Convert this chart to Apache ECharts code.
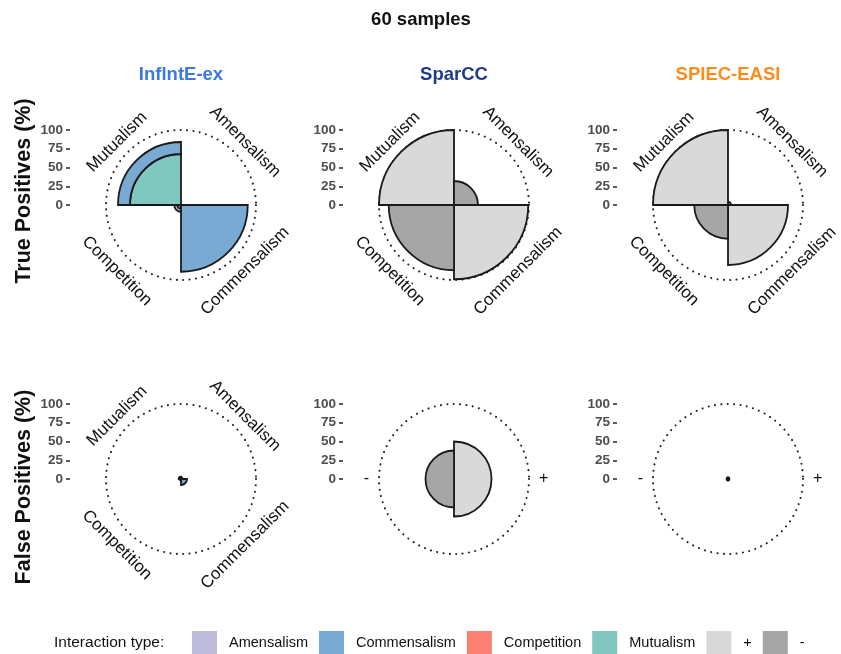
<!DOCTYPE html>
<html><head><meta charset="utf-8">
<script src="https://cdn.jsdelivr.net/npm/echarts@6/dist/echarts.min.js"></script>
<style>html,body{margin:0;padding:0;background:#fff}#c{width:841px;height:654px}</style>
</head><body><div id="c"></div>
<script>
// ---------- data ----------
const interactionTypes = ['Amensalism', 'Commensalism', 'Competition', 'Mutualism'];
const signs = ['+', '-'];
const methods = ['InflntE-ex', 'SparCC', 'SPIEC-EASI'];
const rowTitles = ['True Positives (%)', 'False Positives (%)'];
const radiusTicks = [0, 25, 50, 75, 100];
const legendItems = ['Amensalism', 'Commensalism', 'Competition', 'Mutualism', '+', '-'];

// True positives, InflntE-ex (values per interaction-type quadrant)
const tpInflAmensalism   = [0, 0, 4, 0];
const tpInflCommensalism = [0, 89, 0, 16];
const tpInflCompetition  = [0, 0, 5, 0];
const tpInflMutualism    = [0, 0, 0, 68];
// True positives, SparCC / SPIEC-EASI (sign predicted per quadrant)
const tpSparccPlus  = [0, 99, 0, 100];
const tpSparccMinus = [32, 0, 87, 0];
const tpSpiecPlus   = [4, 80, 0, 100];
const tpSpiecMinus  = [0, 0, 45, 0];
// False positives
const fpInflAmensalism   = [0, 0, 0, 0];
const fpInflCommensalism = [2, 8, 2, 3];
const fpInflCompetition  = [0, 0, 0, 0];
const fpInflMutualism    = [0, 0, 0, 0];
const fpSparccPlus  = [50, 0];
const fpSparccMinus = [0, 38];
const fpSpiecPlus   = [2, 0];
const fpSpiecMinus  = [0, 2];

// ---------- styles / layout ----------
const FONT = "'Liberation Sans', Arial, Helvetica, sans-serif";
const typeColors = { Amensalism: '#BEBADA', Commensalism: '#78AAD3', Competition: '#FB8072', Mutualism: '#7FC7BF' };
const signColors = { '+': '#D9D9D9', '-': '#A6A6A6' };
const methodColors = ['#3C78E8', '#1F3A8A', '#FF8C1A'];
const CX = [181, 454, 728];
const CY = [205, 479];
const R = 75;
const axisX = [70, 343, 617];

const nz = arr => arr.map(v => (v === 0 ? null : v));

const polar = [], angleAxis = [], radiusAxis = [], grid = [], xAxis = [], yAxis = [], series = [], graphic = [];

const panels = [
  { row: 0, col: 0, cats: interactionTypes, data: { Mutualism: tpInflMutualism, Competition: tpInflCompetition, Commensalism: tpInflCommensalism, Amensalism: tpInflAmensalism }, colors: typeColors },
  { row: 0, col: 1, cats: interactionTypes, data: { '+': tpSparccPlus, '-': tpSparccMinus }, colors: signColors },
  { row: 0, col: 2, cats: interactionTypes, data: { '+': tpSpiecPlus, '-': tpSpiecMinus }, colors: signColors },
  { row: 1, col: 0, cats: interactionTypes, data: { Mutualism: fpInflMutualism, Competition: fpInflCompetition, Commensalism: fpInflCommensalism, Amensalism: fpInflAmensalism }, colors: typeColors },
  { row: 1, col: 1, cats: signs, data: { '+': fpSparccPlus, '-': fpSparccMinus }, colors: signColors },
  { row: 1, col: 2, cats: signs, data: { '+': fpSpiecPlus, '-': fpSpiecMinus }, colors: signColors }
];

panels.forEach((p, i) => {
  const cx = CX[p.col], cy = CY[p.row];
  polar.push({ center: [cx, cy], radius: R });
  const isSign = p.cats === signs;
  angleAxis.push({
    polarIndex: i, type: 'category', data: p.cats, startAngle: 90, clockwise: true,
    boundaryGap: true,
    axisLine: { show: true, lineStyle: { color: '#222', width: 2.1, type: [0.01, 6.4], cap: 'round' } },
    axisTick: { show: false }, splitLine: { show: false },
    axisLabel: { show: isSign, margin: 10, color: '#111', fontSize: 16, fontFamily: FONT }
  });
  radiusAxis.push({ polarIndex: i, type: 'value', min: 0, max: 100, show: false, axisLine: { show: false }, splitLine: { show: false }, axisLabel: { show: false }, axisTick: { show: false } });
  grid.push({ left: axisX[p.col], top: cy - R, width: 5, height: R });
  xAxis.push({ gridIndex: i, type: 'value', show: false });
  yAxis.push({
    gridIndex: i, type: 'value', min: radiusTicks[0], max: radiusTicks[radiusTicks.length - 1], interval: 25,
    axisLine: { show: false }, splitLine: { show: false },
    axisTick: { show: true, length: 4, lineStyle: { color: '#333', width: 1.6 } },
    axisLabel: { color: '#4D4D4D', fontSize: 13.5, fontWeight: 'bold', margin: 7, fontFamily: FONT }
  });
  Object.keys(p.data).forEach(name => {
    series.push({
      type: 'bar', name, coordinateSystem: 'polar', polarIndex: i, stack: 'p' + i,
      barCategoryGap: '0%', data: nz(p.data[name]),
      itemStyle: { color: p.colors[name], borderColor: '#1A1A1A', borderWidth: 1.8 },
      emphasis: { disabled: true }, animation: false
    });
  });
  if (!isSign) {
    const d = 64;
    const labs = [
      { t: 'Mutualism', dx: -d, dy: -d + 1, rot: Math.PI / 4 },
      { t: 'Amensalism', dx: d, dy: -d + 1, rot: -Math.PI / 4 },
      { t: 'Commensalism', dx: d, dy: d + 2, rot: Math.PI / 4 },
      { t: 'Competition', dx: -d, dy: d + 2, rot: -Math.PI / 4 }
    ];
    labs.forEach(l => graphic.push({
      type: 'text', x: cx + l.dx, y: cy + l.dy, rotation: l.rot,
      style: { text: l.t, fill: '#111', font: '17px ' + FONT, align: 'center', verticalAlign: 'middle' }
    }));
  }
});

// titles
graphic.push({ type: 'text', x: 421, y: 20, style: { text: '60 samples', fill: '#111', font: 'bold 18.5px ' + FONT, align: 'center', verticalAlign: 'middle' } });
methods.forEach((m, j) => graphic.push({ type: 'text', x: CX[j], y: 75, style: { text: m, fill: methodColors[j], font: 'bold 18.5px ' + FONT, align: 'center', verticalAlign: 'middle' } }));
graphic.push({ type: 'text', x: 24, y: 191, rotation: Math.PI / 2, style: { text: rowTitles[0], fill: '#111', font: 'bold 21.5px ' + FONT, align: 'center', verticalAlign: 'middle' } });
graphic.push({ type: 'text', x: 24, y: 487, rotation: Math.PI / 2, style: { text: rowTitles[1], fill: '#111', font: 'bold 21.5px ' + FONT, align: 'center', verticalAlign: 'middle' } });
graphic.push({ type: 'text', x: 54, y: 643, style: { text: 'Interaction type:', fill: '#111', font: '15.5px ' + FONT, align: 'left', verticalAlign: 'middle' } });

const chart = echarts.init(document.getElementById('c'), null, { renderer: 'canvas' });
chart.setOption({
  animation: false,
  backgroundColor: '#fff',
  polar, angleAxis, radiusAxis, grid, xAxis, yAxis, series, graphic,
  legend: {
    data: legendItems, left: 192, top: 631, padding: 0, itemWidth: 25, itemHeight: 24, itemGap: 11,
    icon: 'rect', selectedMode: false,
    itemStyle: { borderWidth: 0 },
    textStyle: { fontSize: 14.5, color: '#111', fontFamily: FONT, padding: [0, 0, 0, 7] }
  }
});
</script></body></html>
